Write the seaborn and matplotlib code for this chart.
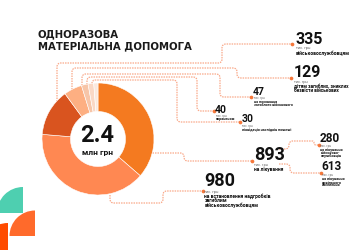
import numpy as np
import matplotlib
matplotlib.use("Agg")
import matplotlib.pyplot as plt
from matplotlib.path import Path
from matplotlib.patches import PathPatch, Wedge
import seaborn as sns

# donut slices, clockwise from 12 o'clock (тис. грн)
slice_values = [893, 980, 335, 129, 47, 40, 30]
slice_colors = ["#F47A20", "#FF8852", "#D9541F", "#FDAF82", "#F7C5A8", "#FAD8C5", "#FCE8DC"]

total_label = "2.4"
total_unit = "млн грн"
title_lines = ["ОДНОРАЗОВА", "МАТЕРІАЛЬНА ДОПОМОГА"]

label_numbers = ["335", "129", "47", "40", "30", "893", "280", "613", "980"]
label_texts = [
    ["військовослужбовцям"],
    ["дітям загиблих, зниклих", "безвісти військових"],
    ["на поховання", "загиблого військового"],
    ["пораненим"],
    ["ліквідація наслідків пожежі"],
    ["на лікування"],
    ["на лікування", "військово-", "службовців"],
    ["на лікування", "цивільного", "населення"],
    ["на встановлення надгробків", "загиблим", "військовослужбовцям"],
]
unit_text = "тис. грн"

sns.set_theme(style="white")
plt.rcParams["font.family"] = ["Roboto", "DejaVu Sans"]

W, H = 350, 250
fig = plt.figure(figsize=(3.5, 2.5), dpi=100)
fig.patch.set_facecolor("white")
ax = fig.add_axes([0, 0, 1, 1])


def Y(y):
    return H - y


def rounded(points, r=4):
    pts = [np.array([x, Y(y)], dtype=float) for x, y in points]
    verts, codes = [pts[0]], [Path.MOVETO]
    for i in range(1, len(pts) - 1):
        a, p, b = pts[i - 1], pts[i], pts[i + 1]
        da, db = a - p, b - p
        la, lb = np.hypot(*da), np.hypot(*db)
        rr = min(r, la / 2, lb / 2)
        verts += [p + da / la * rr, p, p + db / lb * rr]
        codes += [Path.LINETO, Path.CURVE3, Path.CURVE3]
    verts.append(pts[-1])
    codes.append(Path.LINETO)
    return Path(verts, codes)


line_col = "#F9A98A"
paths = [
    [(57, 104), (57, 63), (222, 63), (222, 44), (292, 44)],
    [(72, 92), (72, 68), (237, 68), (237, 78), (291, 78)],
    [(82, 88), (82, 74), (220, 74), (220, 97), (251, 97)],
    [(87, 87), (87, 77), (197, 77), (197, 111), (214, 111)],
    [(92, 86), (92, 80), (177, 80), (177, 122), (240, 122)],
    [(150, 153), (184, 153), (184, 161), (252, 161)],
    [(279, 149), (289, 149), (289, 141), (314, 141), (314, 145), (319, 145)],
    [(279, 164), (290, 164), (290, 173), (321, 173)],
    [(110, 190), (110, 203), (163, 203), (163, 191), (203, 191)],
]
for pts in paths:
    ax.add_patch(PathPatch(rounded(pts), fill=False, edgecolor=line_col,
                           lw=0.9, linestyle=(0, (1.2, 0.8)), zorder=1))
    ax.scatter([pts[-1][0]], [Y(pts[-1][1])], s=7, color="#F5773A", zorder=3, linewidths=0)

# donut
ax.pie(slice_values, colors=slice_colors, startangle=90, counterclock=False,
       center=(98, Y(139)), radius=56, frame=True,
       wedgeprops=dict(width=28.5, edgecolor="white", linewidth=0.4, zorder=2))
ax.text(97, Y(136), total_label, ha="center", va="center", fontsize=17,
        fontweight="bold", color="#111111", zorder=4)
ax.text(97, Y(152.5), total_unit, ha="center", va="center", fontsize=6,
        fontweight="bold", color="#111111", zorder=4)

# title
for i, t in enumerate(title_lines):
    ax.text(38, Y(34 + 12.5 * i), t, ha="left", va="center", fontsize=7.3,
            fontweight="bold", color="#1A1A1A", family=["DejaVu Sans"])

# value labels: number x, baseline y, number size, first small line y, line step, small size
label_layout = [
    (295, 43.5, 11.5, 48.5, 4.5, 3.6),
    (294, 77, 11.5, 82, 4.2, 3.4),
    (253, 95, 7.5, 98.5, 3.2, 2.6),
    (215, 113, 7.5, 116.3, 3.0, 2.6),
    (242, 122.5, 7.5, 126, 3.0, 2.6),
    (254, 160, 13, 165, 4.2, 3.5),
    (320, 141.5, 8.5, 146.3, 3.4, 2.7),
    (321, 170.5, 8.5, 175.3, 3.4, 2.7),
    (204, 185.8, 13, 192, 4.3, 3.6),
]
for num, lines, (x, yb, fs, y0, step, ss) in zip(label_numbers, label_texts, label_layout):
    ax.text(x, Y(yb), num, ha="left", va="baseline", fontsize=fs,
            fontweight="bold", color="#111111")
    ax.text(x + 0.5, Y(y0), unit_text, ha="left", va="center", fontsize=ss * 0.8,
            color="#666666")
    for i, t in enumerate(lines):
        ax.text(x + 0.5, Y(y0 + step * (i + 1)), t, ha="left", va="center",
                fontsize=ss, fontweight="bold", color="#111111")

# decorative corner shapes
ax.add_patch(Wedge((23, Y(213)), 26, 90, 180, color="#4ECFB0", lw=0))
ax.add_patch(Wedge((35, Y(236)), 25.5, 90, 180, color="#FF6A2B", lw=0))
ax.add_patch(Wedge((8, Y(250)), 27, 90, 180, color="#FF4B00", lw=0))

ax.set_xlim(0, W)
ax.set_ylim(0, H)
ax.set_aspect("equal")
ax.axis("off")

fig.savefig("out.png", dpi=100, facecolor="white")
